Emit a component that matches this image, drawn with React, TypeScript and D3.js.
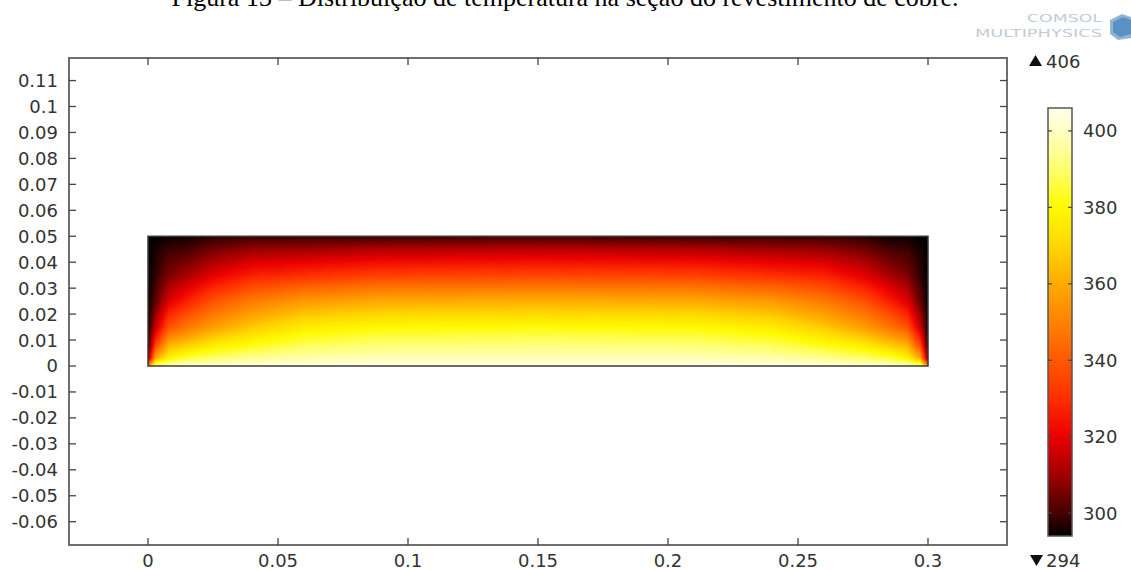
import React, { useMemo } from 'react';
import * as d3 from 'd3';

// ---- data ----
const titleText = 'Figura 13 – Distribuição de temperatura na seção do revestimento de cobre.';
const xTicks = [0, 0.05, 0.1, 0.15, 0.2, 0.25, 0.3];
const xTickLabels = ['0', '0.05', '0.1', '0.15', '0.2', '0.25', '0.3'];
const yTicks = [-0.06, -0.05, -0.04, -0.03, -0.02, -0.01, 0, 0.01, 0.02, 0.03, 0.04, 0.05, 0.06, 0.07, 0.08, 0.09, 0.1, 0.11];
const yTickLabels = ['-0.06', '-0.05', '-0.04', '-0.03', '-0.02', '-0.01', '0', '0.01', '0.02', '0.03', '0.04', '0.05', '0.06', '0.07', '0.08', '0.09', '0.1', '0.11'];

// domain rectangle (m)
const domainX = [0, 0.3];
const domainY = [0, 0.05];

// temperature samples (K) on a grid: columns at gridX, rows at gridY
const gridX = [0, 0.003, 0.008, 0.015, 0.025, 0.04, 0.06, 0.09, 0.15, 0.21, 0.24, 0.26, 0.275, 0.285, 0.292, 0.297, 0.3];
const gridY = [0, 0.003, 0.008, 0.015, 0.025, 0.035, 0.045, 0.05];
const tempRows = [
  [350, 395, 400, 402, 403, 404, 405, 405, 405, 405, 405, 404, 403, 402, 400, 395, 350],
  [305, 360, 378, 386, 390, 394, 397, 399, 399, 399, 397, 394, 390, 386, 378, 360, 305],
  [297, 335, 362, 368, 376, 382, 388, 391, 392, 391, 388, 382, 376, 368, 362, 335, 297],
  [295, 315, 338, 347, 357, 367, 376, 380, 381, 380, 376, 367, 357, 347, 338, 315, 295],
  [294, 303, 318, 327, 338, 348, 356, 360, 361, 360, 356, 348, 338, 327, 318, 303, 294],
  [294, 298, 306, 311, 319, 327, 330, 334, 335, 334, 330, 327, 319, 311, 306, 298, 294],
  [294, 296, 299, 300, 305, 309, 310, 312, 313, 312, 310, 309, 305, 300, 299, 296, 294],
  [294, 294, 295, 295, 297, 299, 299, 299, 300, 299, 299, 299, 297, 295, 295, 294, 294],
];

// colour legend
const tMin = 294;
const tMax = 406;
const cbTicks = [300, 320, 340, 360, 380, 400];
const stopValues = [294, 300, 310, 320, 330, 340, 350, 360, 370, 380, 390, 400, 406];
const stopColors = [
  '#000000', '#460000', '#a00000', '#eb0000', '#ff2d00', '#ff5a00', '#ff8200',
  '#ffaa00', '#ffd700', '#fffa00', '#ffff6e', '#ffffc3', '#ffffeb',
];

const W = 1131;
const H = 570;

const xScale = d3.scaleLinear().domain([0, 0.3]).range([148, 928]);
const yScale = d3.scaleLinear().domain([0, 0.1]).range([366, 106.5]);
const frame = { x0: 69, x1: 1007, y0: 58, y1: 545 };
const cbScale = d3.scaleLinear().domain([tMin, tMax]).range([536, 108]);
const cb = { x0: 1048, x1: 1072 };

const colorScale = d3
  .scaleLinear<string>()
  .domain(stopValues)
  .range(stopColors)
  .interpolate(d3.interpolateRgb)
  .clamp(true);

function sampleField(xv: number, yv: number): number {
  const nx = gridX.length;
  const ny = gridY.length;
  let i = d3.bisectRight(gridX, xv) - 1;
  i = Math.max(0, Math.min(nx - 2, i));
  let j = d3.bisectRight(gridY, yv) - 1;
  j = Math.max(0, Math.min(ny - 2, j));
  const tx = Math.max(0, Math.min(1, (xv - gridX[i]) / (gridX[i + 1] - gridX[i])));
  const ty = Math.max(0, Math.min(1, (yv - gridY[j]) / (gridY[j + 1] - gridY[j])));
  const a = tempRows[j][i];
  const b = tempRows[j][i + 1];
  const c = tempRows[j + 1][i];
  const d = tempRows[j + 1][i + 1];
  return (a * (1 - tx) + b * tx) * (1 - ty) + (c * (1 - tx) + d * tx) * ty;
}

function useFieldImage(): { href: string; x: number; y: number; w: number; h: number } {
  return useMemo(() => {
    const x = xScale(domainX[0]);
    const y = yScale(domainY[1]);
    const w = Math.round(xScale(domainX[1]) - x);
    const h = Math.round(yScale(domainY[0]) - y);
    if (typeof document === 'undefined') return { href: '', x, y, w, h };
    const canvas = document.createElement('canvas');
    canvas.width = w;
    canvas.height = h;
    const ctx = canvas.getContext('2d');
    if (!ctx) return { href: '', x, y, w, h };
    const img = ctx.createImageData(w, h);
    const lutN = 1024;
    const lut: number[][] = [];
    for (let k = 0; k < lutN; k++) {
      const t = tMin + ((tMax - tMin) * k) / (lutN - 1);
      const c = d3.rgb(colorScale(t));
      lut.push([c.r, c.g, c.b]);
    }
    for (let py = 0; py < h; py++) {
      const yv = yScale.invert(y + py + 0.5);
      for (let px = 0; px < w; px++) {
        const xv = xScale.invert(x + px + 0.5);
        const t = sampleField(xv, yv);
        let k = Math.round(((t - tMin) / (tMax - tMin)) * (lutN - 1));
        k = Math.max(0, Math.min(lutN - 1, k));
        const c = lut[k];
        const o = (py * w + px) * 4;
        img.data[o] = c[0];
        img.data[o + 1] = c[1];
        img.data[o + 2] = c[2];
        img.data[o + 3] = 255;
      }
    }
    ctx.putImageData(img, 0, 0);
    return { href: canvas.toDataURL(), x, y, w, h };
  }, []);
}

export default function App() {
  const field = useFieldImage();
  const font = "'DejaVu Sans', sans-serif";
  const fs = 18;
  const tickLen = 7;
  const textColor = '#333';
  const gradStops = stopValues.map((v) => ({
    offset: (v - tMin) / (tMax - tMin),
    color: colorScale(v),
  }));

  return (
    <svg
      width={W}
      height={H}
      viewBox={`0 0 ${W} ${H}`}
      style={{ position: 'absolute', left: 0, top: 0, background: '#fff' }}
    >
      <defs>
        <linearGradient id="cbGrad" x1="0" y1="1" x2="0" y2="0">
          {gradStops.map((s, i) => (
            <stop key={i} offset={s.offset} stopColor={s.color} />
          ))}
        </linearGradient>
      </defs>
      <rect x={0} y={0} width={W} height={H} fill="#fff" />

      {/* title (cut at top) */}
      <text
        x={565}
        y={6}
        textAnchor="middle"
        fontFamily="'Liberation Serif', 'Times New Roman', serif"
        fontSize={26}
        fill="#000"
      >
        {titleText}
      </text>

      {/* COMSOL logo */}
      <text x={1027} y={22} fontFamily={font} fontSize={11} fill="#c2ccd6" textLength={75} lengthAdjust="spacingAndGlyphs">
        COMSOL
      </text>
      <text x={975} y={37} fontFamily={font} fontSize={11} fill="#c2ccd6" textLength={127} lengthAdjust="spacingAndGlyphs">
        MULTIPHYSICS
      </text>
      <polygon points="1110,20 1122,14 1131,17 1131,38 1118,40 1110,34" fill="#8fb4d4" />
      <polygon points="1113,22 1123,17 1131,20 1131,34 1120,37 1113,32" fill="#5a90c2" />

      {/* frame */}
      <rect
        x={frame.x0}
        y={frame.y0}
        width={frame.x1 - frame.x0}
        height={frame.y1 - frame.y0}
        fill="none"
        stroke="#6e6e6e"
        strokeWidth={2}
      />

      {/* x ticks top/bottom */}
      {xTicks.map((t, i) => (
        <g key={'xt' + i} stroke="#444" strokeWidth={1.3}>
          <line x1={xScale(t)} x2={xScale(t)} y1={frame.y1} y2={frame.y1 - tickLen} />
          <line x1={xScale(t)} x2={xScale(t)} y1={frame.y0} y2={frame.y0 + tickLen} />
        </g>
      ))}
      {xTicks.map((t, i) => (
        <text
          key={'xl' + i}
          x={xScale(t)}
          y={567}
          textAnchor="middle"
          fontFamily={font}
          fontSize={fs}
          fill={textColor}
        >
          {xTickLabels[i]}
        </text>
      ))}

      {/* y ticks left/right */}
      {yTicks.map((t, i) => (
        <g key={'yt' + i} stroke="#444" strokeWidth={1.3}>
          <line x1={frame.x0} x2={frame.x0 + tickLen} y1={yScale(t)} y2={yScale(t)} />
          <line x1={frame.x1} x2={frame.x1 - tickLen} y1={yScale(t)} y2={yScale(t)} />
        </g>
      ))}
      {yTicks.map((t, i) => (
        <text
          key={'yl' + i}
          x={58}
          y={yScale(t)}
          dy="0.36em"
          textAnchor="end"
          fontFamily={font}
          fontSize={fs}
          fill={textColor}
        >
          {yTickLabels[i]}
        </text>
      ))}

      {/* temperature field */}
      {field.href && (
        <image
          href={field.href}
          x={field.x}
          y={field.y}
          width={field.w}
          height={field.h}
          preserveAspectRatio="none"
        />
      )}
      <rect
        x={xScale(domainX[0])}
        y={yScale(domainY[1])}
        width={xScale(domainX[1]) - xScale(domainX[0])}
        height={yScale(domainY[0]) - yScale(domainY[1])}
        fill="none"
        stroke="#3a3a3a"
        strokeWidth={1.5}
      />

      {/* colour bar */}
      <rect
        x={cb.x0}
        y={cbScale(tMax)}
        width={cb.x1 - cb.x0}
        height={cbScale(tMin) - cbScale(tMax)}
        fill="url(#cbGrad)"
        stroke="#555"
        strokeWidth={1.5}
      />
      {cbTicks.map((t, i) => (
        <g key={'cb' + i}>
          <line x1={cb.x0} x2={cb.x0 + 4} y1={cbScale(t)} y2={cbScale(t)} stroke="#444" strokeWidth={1.2} />
          <line x1={cb.x1} x2={cb.x1 - 4} y1={cbScale(t)} y2={cbScale(t)} stroke="#444" strokeWidth={1.2} />
          <text
            x={1083}
            y={cbScale(t)}
            dy="0.36em"
            fontFamily={font}
            fontSize={fs}
            fill={textColor}
          >
            {t}
          </text>
        </g>
      ))}

      {/* max / min markers */}
      <polygon points="1029,66 1042,66 1035.5,55" fill="#111" />
      <text x={1046} y={68} fontFamily={font} fontSize={fs} fill={textColor}>
        {tMax}
      </text>
      <polygon points="1030,555 1043,555 1036.5,566" fill="#111" />
      <text x={1046} y={567} fontFamily={font} fontSize={fs} fill={textColor}>
        {tMin}
      </text>
    </svg>
  );
}
